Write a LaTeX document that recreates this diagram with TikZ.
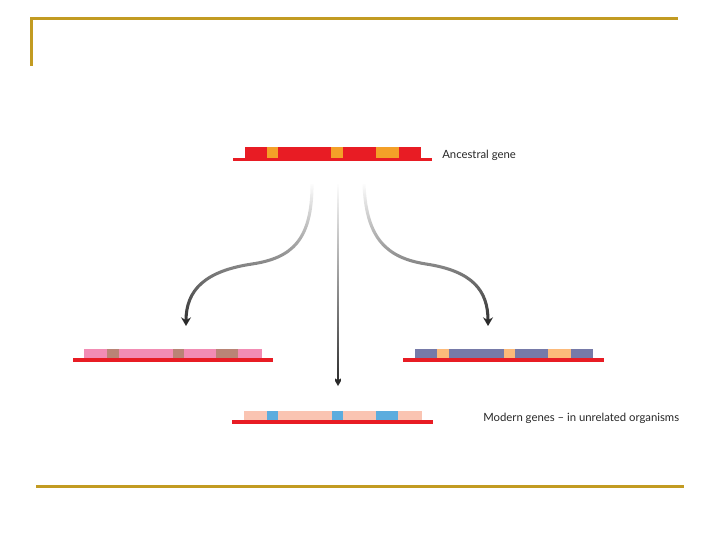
\documentclass[tikz,border=0pt]{standalone}
\usepackage{fontspec}
\setmainfont{Lato}
\usetikzlibrary{arrows.meta, fadings, positioning}
\definecolor{framegold}{RGB}{194,155,34}
\definecolor{genered}{RGB}{232,28,36}
\definecolor{exonorange}{RGB}{244,160,40}
\definecolor{genepink}{RGB}{242,140,180}
\definecolor{exonbrown}{RGB}{186,132,118}
\definecolor{geneslate}{RGB}{118,122,168}
\definecolor{exonpeach}{RGB}{252,186,122}
\definecolor{genesalmon}{RGB}{250,196,178}
\definecolor{exonblue}{RGB}{92,172,222}
\definecolor{arrowgrey}{RGB}{40,40,40}

\begin{document}
\begin{tikzpicture}[x=0.75pt, y=-0.75pt,
    evolve/.style={arrowgrey, line width=2.3pt, path fading=north,
                   -{Stealth[length=6.5pt, width=7.5pt]}},
    label/.style={anchor=west, inner sep=0pt, text=black!85,
                  font=\fontsize{8.5}{10}\selectfont}]
    \useasboundingbox (0,0) rectangle (720,540);
    % FRAME (gold slide rules)
    \fill[framegold] (30,16.5) rectangle (678,19.5);
    \fill[framegold] (29.5,16.5) rectangle (32.5,66);
    \fill[framegold] (36,484.5) rectangle (684,487.5);
    % ANCESTRAL GENE (top)
    \fill[genered] (245,147) rectangle (421,158);
    \fill[genered] (233,157.5) rectangle (432,161);
    \fill[exonorange] (267,147) rectangle (278,157.5);
    \fill[exonorange] (331,147) rectangle (343,157.5);
    \fill[exonorange] (376,147) rectangle (399,157.5);
    \node[label] (ancestral) at (442,155) {Ancestral gene};
    % LEFT DESCENDANT (pink)
    \fill[genepink] (84,349) rectangle (262,358);
    \fill[exonbrown] (107,349) rectangle (119,358);
    \fill[exonbrown] (173,349) rectangle (184,358);
    \fill[exonbrown] (216,349) rectangle (238,358);
    \fill[genered] (73,358) rectangle (273,362);
    % RIGHT DESCENDANT (slate)
    \fill[geneslate] (415,349) rectangle (593,358);
    \fill[exonpeach] (437,349) rectangle (449,358);
    \fill[exonpeach] (504,349) rectangle (515,358);
    \fill[exonpeach] (548,349) rectangle (571,358);
    \fill[genered] (403,358) rectangle (604,362);
    % MIDDLE DESCENDANT (salmon)
    \fill[genesalmon] (244,411) rectangle (422,420);
    \fill[exonblue] (267,411) rectangle (278,420);
    \fill[exonblue] (332,411) rectangle (343,420);
    \fill[exonblue] (376,411) rectangle (398,420);
    \fill[genered] (232,420) rectangle (433,424);
    \node[label] (modern) at (483,418) {Modern genes -- in unrelated organisms};
    % ARROW ENDS
    \coordinate (srcL) at (312,184);
    \coordinate (srcM) at (338,184);
    \coordinate (srcR) at (364,184);
    \coordinate (dstL) at (186,326);
    \coordinate (dstM) at (338,386);
    \coordinate (dstR) at (488,326);
    % Divergence arrows (grey fading in from the top)
    \draw[evolve] (srcL) .. controls (312,240) and (292,258) .. (252,264)
        .. controls (205,271) and (186,290) .. (dstL);
    \draw[evolve] (srcR) .. controls (366,240) and (388,258) .. (426,264)
        .. controls (472,271) and (488,290) .. (dstR);
    \draw[evolve, line width=1.8pt] (srcM) -- (dstM);
\end{tikzpicture}
\end{document}
